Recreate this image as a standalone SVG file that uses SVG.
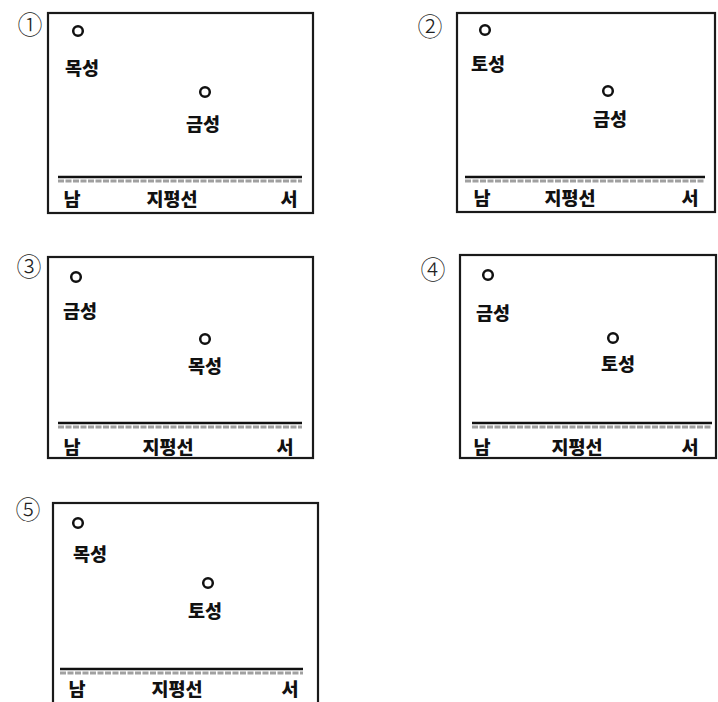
<svg xmlns="http://www.w3.org/2000/svg" width="718" height="702" viewBox="0 0 718 702">
<style>
.box{fill:none;stroke:#1a1a1a;stroke-width:2.2}
.pl{fill:none;stroke:#111;stroke-width:2.5}
.hz{stroke:#111;stroke-width:2.5}
.hg{stroke:#a0a0a0;stroke-width:3;stroke-dasharray:6 1.5}
.lb{font-family:"Noto Sans CJK KR","Noto Sans",sans-serif;font-weight:900;font-size:18.5px;fill:#111;text-anchor:middle}
.num{font-family:"Noto Sans CJK KR","DejaVu Sans",sans-serif;font-weight:300;font-size:25px;fill:#222;text-anchor:middle}
</style>
<rect width="718" height="702" fill="#fff"/>

<g id="panel1">
<text class="num" x="30" y="34">①</text>
<rect class="box" x="48" y="13" width="265" height="200"/>
<circle class="pl" cx="78" cy="31" r="4.8"/>
<text class="lb" x="82" y="75">목성</text>
<circle class="pl" cx="205" cy="92" r="4.8"/>
<text class="lb" x="203" y="131">금성</text>
<line class="hz" x1="58" y1="177" x2="302" y2="177"/>
<line class="hg" x1="58" y1="181" x2="302" y2="181"/>
<text class="lb" x="72" y="206">남</text>
<text class="lb" x="172" y="206">지평선</text>
<text class="lb" x="289" y="206">서</text>
</g>

<g id="panel2">
<text class="num" x="430" y="36">②</text>
<rect class="box" x="457" y="13" width="258" height="199"/>
<circle class="pl" cx="485" cy="30" r="4.8"/>
<text class="lb" x="488" y="71">토성</text>
<circle class="pl" cx="608" cy="91" r="4.8"/>
<text class="lb" x="610" y="126">금성</text>
<line class="hz" x1="465" y1="177" x2="705" y2="177"/>
<line class="hg" x1="465" y1="181" x2="705" y2="181"/>
<text class="lb" x="482" y="205">남</text>
<text class="lb" x="570" y="205">지평선</text>
<text class="lb" x="690" y="205">서</text>
</g>

<g id="panel3">
<text class="num" x="29" y="276">③</text>
<rect class="box" x="48" y="257" width="265" height="201"/>
<circle class="pl" cx="76" cy="277" r="4.8"/>
<text class="lb" x="80" y="318">금성</text>
<circle class="pl" cx="205" cy="339" r="4.8"/>
<text class="lb" x="205" y="373">목성</text>
<line class="hz" x1="58" y1="423" x2="302" y2="423"/>
<line class="hg" x1="58" y1="427" x2="302" y2="427"/>
<text class="lb" x="72" y="454">남</text>
<text class="lb" x="168" y="454">지평선</text>
<text class="lb" x="285" y="454">서</text>
</g>

<g id="panel4">
<text class="num" x="433" y="279">④</text>
<rect class="box" x="460" y="255" width="256" height="203"/>
<circle class="pl" cx="488" cy="275" r="4.8"/>
<text class="lb" x="493" y="320">금성</text>
<circle class="pl" cx="613" cy="338" r="4.8"/>
<text class="lb" x="618" y="371">토성</text>
<line class="hz" x1="472" y1="423" x2="712" y2="423"/>
<line class="hg" x1="472" y1="427" x2="712" y2="427"/>
<text class="lb" x="482" y="454">남</text>
<text class="lb" x="577" y="454">지평선</text>
<text class="lb" x="690" y="454">서</text>
</g>

<g id="panel5">
<text class="num" x="28" y="519">⑤</text>
<rect class="box" x="53" y="503" width="265" height="210"/>
<circle class="pl" cx="78" cy="523" r="4.8"/>
<text class="lb" x="90" y="561">목성</text>
<circle class="pl" cx="208" cy="583" r="4.8"/>
<text class="lb" x="205" y="618">토성</text>
<line class="hz" x1="60" y1="669" x2="303" y2="669"/>
<line class="hg" x1="60" y1="673" x2="303" y2="673"/>
<text class="lb" x="77" y="696">남</text>
<text class="lb" x="177" y="696">지평선</text>
<text class="lb" x="290" y="696">서</text>
</g>
</svg>
